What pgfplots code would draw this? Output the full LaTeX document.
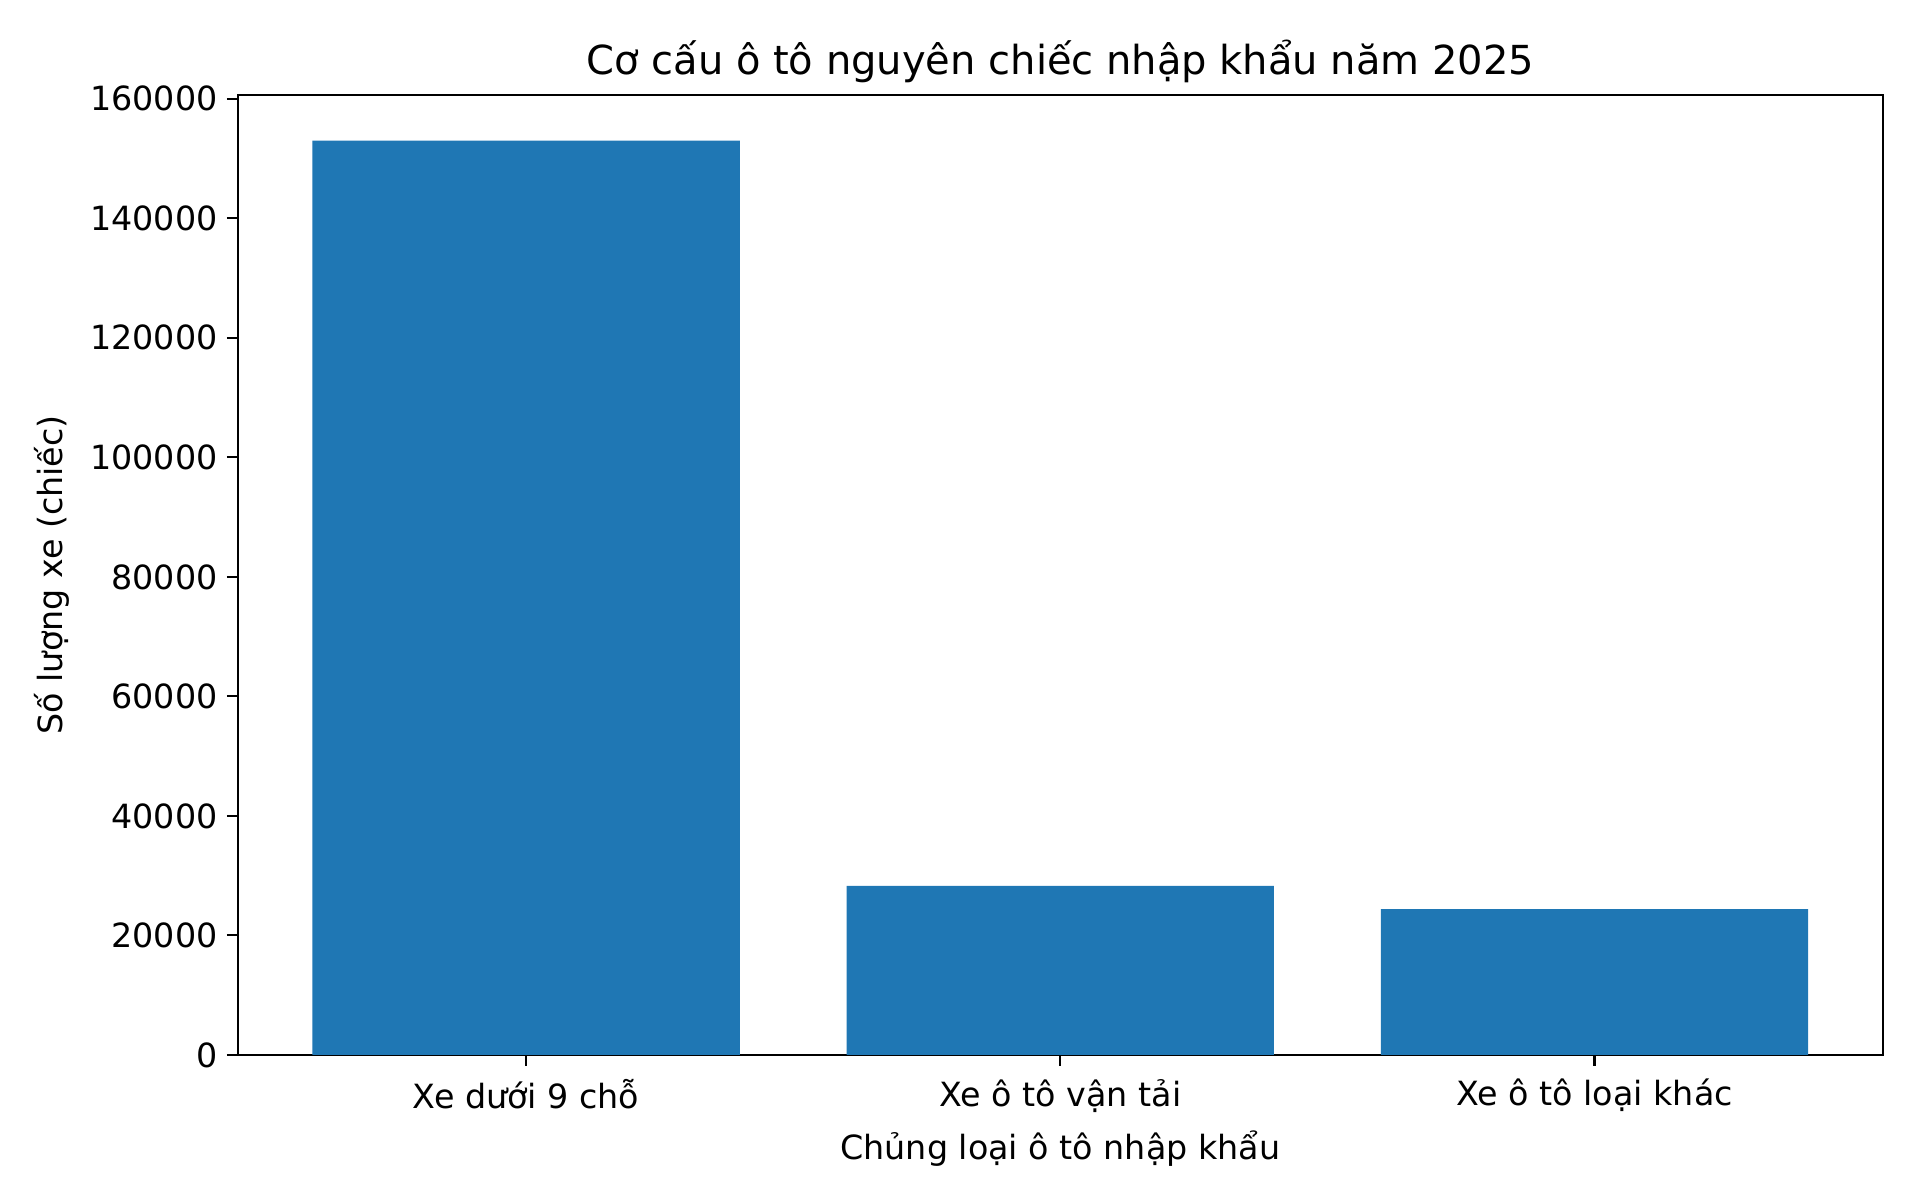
\documentclass[border=0pt]{standalone}
\usepackage{fontspec}
\setmainfont{DejaVu Sans}
\usepackage{pgfplots}
\pgfplotsset{compat=1.18}
\definecolor{mplblue}{HTML}{1F77B4}
\begin{document}
\begin{tikzpicture}
\path[use as bounding box] (-89.1pt,-54.4pt) rectangle (630.9pt,395.6pt);
\begin{axis}[
    scale only axis,
    width=617pt, height=360pt,
    at={(0,0)}, anchor=south west,
    xmin=-0.54, xmax=2.54,
    ymin=0, ymax=160650,
    xtick={0,1,2},
    xticklabels={Xe dưới 9 chỗ, Xe ô tô vận tải, Xe ô tô loại khác},
    ytick={0,20000,40000,60000,80000,100000,120000,140000,160000},
    yticklabels={0,20000,40000,60000,80000,100000,120000,140000,160000},
    scaled y ticks=false,
    tick align=outside,
    tick pos=left,
    major tick length=4pt,
    axis line style={line width=0.8pt},
    every tick/.style={black, line width=0.8pt},
    tick label style={font=\fontsize{12.5}{15}\selectfont},
    xticklabel style={yshift=-1.5pt},
    label style={font=\fontsize{12.5}{15}\selectfont},
    title style={font=\fontsize{15}{18}\selectfont, yshift=-5pt},
    title={Cơ cấu ô tô nguyên chiếc nhập khẩu năm 2025},
    xlabel={Chủng loại ô tô nhập khẩu},
    ylabel={Số lượng xe (chiếc)},
    ylabel style={yshift=1pt},
]
\addplot[ybar, bar width=0.8, fill=mplblue, draw=none, bar shift=0pt] coordinates {
    (0,153000) (1,28300) (2,24400)
};
\end{axis}
\end{tikzpicture}
\end{document}
